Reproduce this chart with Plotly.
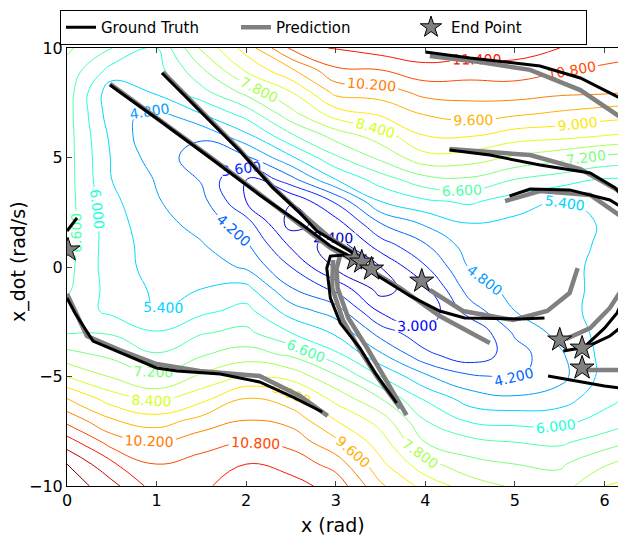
import numpy as np
import plotly.graph_objects as go

# ---------------- contour field ----------------
x_grid = [0.0, 0.5, 1.0, 1.5, 2.0, 2.5, 3.0, 3.5, 4.0, 4.5, 5.0, 5.5, 6.0, 6.5]
y_grid = [-10, -9, -8, -7, -6, -5, -4, -3, -2, -1, 0, 1, 2, 3, 4, 5, 6, 7, 8, 9, 10]

col_x00 = [13.0, 12.6, 11.7, 10.6, 9.6, 8.4, 7.4, 6.55, 6.4, 6.7, 6.8, 6.85, 6.85, 6.85, 6.85, 6.85, 6.85, 6.85, 6.9, 7.0, 7.3]
col_x05 = [12.2, 11.5, 10.55, 9.65, 8.7, 7.75, 7.05, 6.55, 5.85, 5.75, 5.65, 5.65, 5.65, 5.55, 5.4, 5.35, 5.25, 5.05, 5.0, 5.8, 6.6]
col_x10 = [11.1, 10.8, 10.2, 9.3, 8.2, 7.3, 6.65, 6.05, 5.4, 5.3, 5.2, 5.15, 5.0, 4.85, 4.75, 4.5, 4.3, 4.6, 5.5, 5.75, 6.0]
col_x15 = [11.3, 11.0, 10.6, 9.8, 8.8, 7.9, 7.15, 6.55, 5.85, 5.4, 5.15, 4.85, 4.6, 4.4, 4.15, 3.9, 4.3, 5.4, 6.4, 7.1, 7.9]
col_x20 = [11.7, 11.4, 10.8, 10.2, 9.6, 8.5, 7.45, 6.75, 6.2, 5.6, 4.7, 4.3, 3.85, 3.0, 2.85, 4.1, 5.25, 6.25, 7.4, 8.5, 9.25]
col_x25 = [11.6, 11.2, 10.6, 10.0, 9.25, 8.2, 7.1, 6.0, 5.1, 4.25, 3.6, 2.9, 2.15, 2.45, 4.0, 5.3, 6.5, 7.6, 8.4, 9.5, 10.9]
col_x30 = [11.2, 10.55, 9.75, 9.0, 8.2, 7.3, 6.15, 5.3, 4.5, 3.45, 2.3, 2.05, 2.75, 3.7, 5.4, 6.5, 7.45, 8.7, 9.8, 10.7, 11.5]
col_x35 = [9.7, 9.15, 8.7, 8.15, 7.2, 6.0, 4.9, 3.95, 2.9, 2.15, 2.4, 3.3, 4.2, 5.4, 6.3, 7.35, 8.1, 9.1, 9.9, 10.8, 11.7]
col_x40 = [8.8, 8.0, 7.2, 6.6, 5.9, 4.9, 3.75, 3.15, 2.55, 2.85, 3.55, 4.15, 4.9, 5.9, 7.0, 8.2, 9.0, 9.65, 10.4, 11.2, 11.8]
col_x45 = [8.1, 7.4, 6.8, 5.9, 5.1, 4.3, 3.2, 3.0, 3.9, 4.5, 4.85, 5.1, 5.4, 6.1, 7.1, 8.1, 9.05, 9.85, 10.45, 11.1, 11.7]
col_x50 = [7.7, 7.2, 6.6, 5.8, 4.9, 4.1, 3.9, 4.3, 4.8, 5.0, 5.1, 5.15, 5.25, 5.7, 6.6, 7.7, 8.7, 9.7, 10.5, 11.1, 11.75]
col_x55 = [7.5, 7.1, 6.5, 5.8, 5.1, 4.6, 4.7, 5.0, 5.2, 5.15, 5.15, 5.15, 5.2, 5.35, 6.3, 7.4, 8.6, 9.5, 10.35, 10.85, 11.4]
col_x60 = [8.4, 7.75, 6.9, 6.2, 5.8, 5.6, 5.6, 5.6, 5.6, 5.6, 5.6, 5.5, 5.45, 5.6, 5.95, 7.05, 8.4, 9.3, 10.3, 10.7, 11.1]
col_x65 = [8.8, 8.1, 7.4, 6.7, 6.3, 6.1, 6.0, 6.0, 6.0, 6.0, 6.0, 5.9, 5.8, 5.8, 6.0, 6.9, 8.2, 9.2, 10.1, 10.5, 11.0]

columns = [col_x00, col_x05, col_x10, col_x15, col_x20, col_x25, col_x30,
           col_x35, col_x40, col_x45, col_x50, col_x55, col_x60, col_x65]
z = np.array(columns).T  # rows = y, cols = x

# ---------------- trajectories ----------------
gt_segments = [
    ([0.48, 1.04, 1.60, 2.15, 2.60, 2.94, 3.24], [8.31, 6.67, 4.98, 3.29, 2.01, 0.96, 0.32]),
    ([1.06, 1.48, 1.93, 2.30, 2.60, 2.79, 3.16, 3.33], [8.86, 7.12, 5.30, 3.61, 2.47, 1.64, 0.73, 0.18]),
    ([3.40, 3.83, 4.16, 4.44, 5.06, 5.33], [-0.23, -1.32, -2.01, -2.33, -2.37, -2.33]),
    ([3.10, 2.94, 2.90, 2.94, 3.05, 3.27, 3.44, 3.60, 3.68], [0.55, 0.50, -0.05, -1.42, -2.56, -3.70, -4.84, -5.75, -6.21]),
    ([0.0, 0.089, 0.29, 0.67, 1.00, 1.23, 1.71, 2.15, 2.54, 2.85], [-1.42, -2.10, -3.38, -4.02, -4.61, -4.75, -4.89, -5.25, -5.98, -6.62]),
    ([0.0, 0.056, 0.112], [1.64, 1.96, 2.24]),
    ([4.00, 4.50, 5.28, 5.73, 6.06, 6.24], [9.82, 9.54, 9.18, 8.63, 7.95, 7.58]),
    ([4.27, 4.72, 5.28, 5.84, 6.12, 6.24], [5.34, 5.11, 4.66, 4.29, 3.61, 3.06]),
    ([4.94, 5.17, 5.61, 6.06, 6.24], [3.24, 3.56, 3.52, 3.06, 2.60]),
    ([5.54, 5.80, 6.06, 6.24], [-3.84, -3.65, -3.15, -2.56]),
    ([5.80, 6.00, 6.14, 6.24], [-3.56, -2.79, -2.10, -1.19]),
    ([5.37, 5.69, 6.00, 6.24], [-4.98, -5.21, -5.43, -5.57]),
]

pred_segments = [
    ([0.48, 1.04, 1.60, 2.15, 2.60, 2.94, 3.27, 3.72, 4.16, 4.72], [8.36, 6.71, 5.02, 3.33, 1.96, 0.87, 0.14, -0.96, -2.24, -3.47]),
    ([1.07, 1.48, 1.93, 2.30, 2.60, 2.94, 3.33], [8.90, 7.17, 5.34, 3.65, 2.51, 1.32, 0.32]),
    ([4.05, 4.42, 4.98, 5.36, 5.61, 5.70], [-1.05, -2.01, -2.42, -2.01, -1.19, -0.05]),
    ([3.05, 3.01, 3.02, 3.14, 3.35, 3.55, 3.79], [0.55, -0.05, -0.96, -2.33, -3.70, -5.07, -6.76]),
    ([2.97, 2.96, 3.08, 3.27, 3.47, 3.72], [0.32, -0.96, -2.42, -3.79, -5.07, -6.44]),
    ([0.0, 0.089, 0.223, 0.59, 1.00, 1.48, 2.15, 2.60, 2.91], [-1.23, -2.01, -3.15, -3.79, -4.43, -4.75, -4.98, -5.89, -6.80]),
    ([4.05, 4.61, 5.17, 5.73, 6.24], [9.63, 9.36, 9.00, 8.08, 6.67]),
    ([4.27, 5.17, 5.73, 6.14, 6.24], [5.39, 5.11, 4.47, 3.52, 3.15]),
    ([4.89, 5.28, 5.84, 6.24], [3.01, 3.47, 3.29, 2.15]),
    ([5.57, 5.84, 6.06, 6.24], [-3.29, -2.79, -1.87, -0.73]),
    ([5.76, 6.00, 6.24], [-4.70, -4.70, -4.70]),
]

end_x = [0.011, 3.21, 3.29, 3.40, 3.96, 5.50, 5.75, 5.75]
end_y = [0.78, 0.37, 0.23, -0.09, -0.64, -3.33, -3.70, -4.61]

x_ticks = [0, 1, 2, 3, 4, 5, 6]
y_ticks = [-10, -5, 0, 5, 10]


def join(segs):
    xs, ys = [], []
    for sx, sy in segs:
        xs += list(sx) + [None]
        ys += list(sy) + [None]
    return xs, ys


def jet(t):
    def interp(pts):
        for (a, va), (b, vb) in zip(pts[:-1], pts[1:]):
            if a <= t <= b:
                return va + (vb - va) * (t - a) / (b - a)
        return pts[-1][1]
    r = interp([(0, 0), (0.35, 0), (0.66, 1), (0.89, 1), (1, 0.5)])
    g = interp([(0, 0), (0.125, 0), (0.375, 1), (0.64, 1), (0.91, 0), (1, 0)])
    b = interp([(0, 0.5), (0.11, 1), (0.34, 1), (0.65, 0), (1, 0)])
    return "rgb(%d,%d,%d)" % (round(r * 255), round(g * 255), round(b * 255))


jet_scale = [[i / 100, jet(i / 100)] for i in range(101)]

FONT = "DejaVu Sans"
# page body has an 8px margin: figure is sized/offset to compensate
W, H = 618, 535
ML, MR, MT, MB = 59, 0, 40, 57
PW, PH = W - ML - MR, H - MT - MB

fig = go.Figure()

fig.add_trace(go.Contour(
    x=x_grid, y=y_grid, z=z,
    colorscale=jet_scale, zmin=1.8, zmax=12.6,
    contours=dict(start=1.8, end=12.6, size=0.6, coloring="lines",
                  showlabels=True, labelformat=".3f",
                  labelfont=dict(size=14, family=FONT)),
    line=dict(width=1, smoothing=1.3),
    showscale=False, showlegend=False, hoverinfo="skip",
))

gx, gy = join(gt_segments)
px_, py_ = join(pred_segments)

# prediction drawn first (beneath), ground truth on top; legend order via legendrank
fig.add_trace(go.Scatter(x=px_, y=py_, mode="lines", name="Prediction", legendrank=2,
                         line=dict(color="rgb(128,128,128)", width=4.5)))
fig.add_trace(go.Scatter(x=gx, y=gy, mode="lines", name="Ground Truth", legendrank=1,
                         line=dict(color="black", width=3)))
fig.add_trace(go.Scatter(x=end_x, y=end_y, mode="markers", name="End Point", legendrank=3,
                         marker=dict(symbol="star", size=18, color="rgb(128,128,128)",
                                     line=dict(color="black", width=1))))

fig.update_layout(
    width=W, height=H,
    margin=dict(l=ML, r=MR, t=MT, b=MB),
    paper_bgcolor="white", plot_bgcolor="white",
    font=dict(family=FONT, size=16, color="black"),
    legend=dict(orientation="h", x=(60 - 67) / PW, y=1 + 38 / PH,
                xanchor="left", yanchor="top", traceorder="normal",
                bordercolor="black", borderwidth=1, bgcolor="white",
                font=dict(size=15, family=FONT),
                entrywidth=130, entrywidthmode="pixels"),
    xaxis=dict(range=[0, 6.24], tickvals=x_ticks, ticks="inside", ticklen=5,
               showline=True, linecolor="black", linewidth=1, mirror="ticks",
               showgrid=False, zeroline=False, tickfont=dict(size=16)),
    yaxis=dict(range=[-10, 10], tickvals=y_ticks, ticks="inside", ticklen=5,
               showline=True, linecolor="black", linewidth=1, mirror=False,
               showgrid=False, zeroline=False, tickfont=dict(size=16)),
    annotations=[
        dict(text="x (rad)", xref="paper", yref="paper",
             x=(333 - 67) / PW, y=-39 / PH, xanchor="center", yanchor="middle",
             showarrow=False, font=dict(size=19, family=FONT)),
        dict(text="x_dot (rad/s)", xref="paper", yref="paper",
             x=(18 - 67) / PW, y=(486 - 262) / PH, xanchor="center", yanchor="middle",
             textangle=-90, showarrow=False, font=dict(size=19, family=FONT)),
    ],
)

fig.write_html("out.html")
